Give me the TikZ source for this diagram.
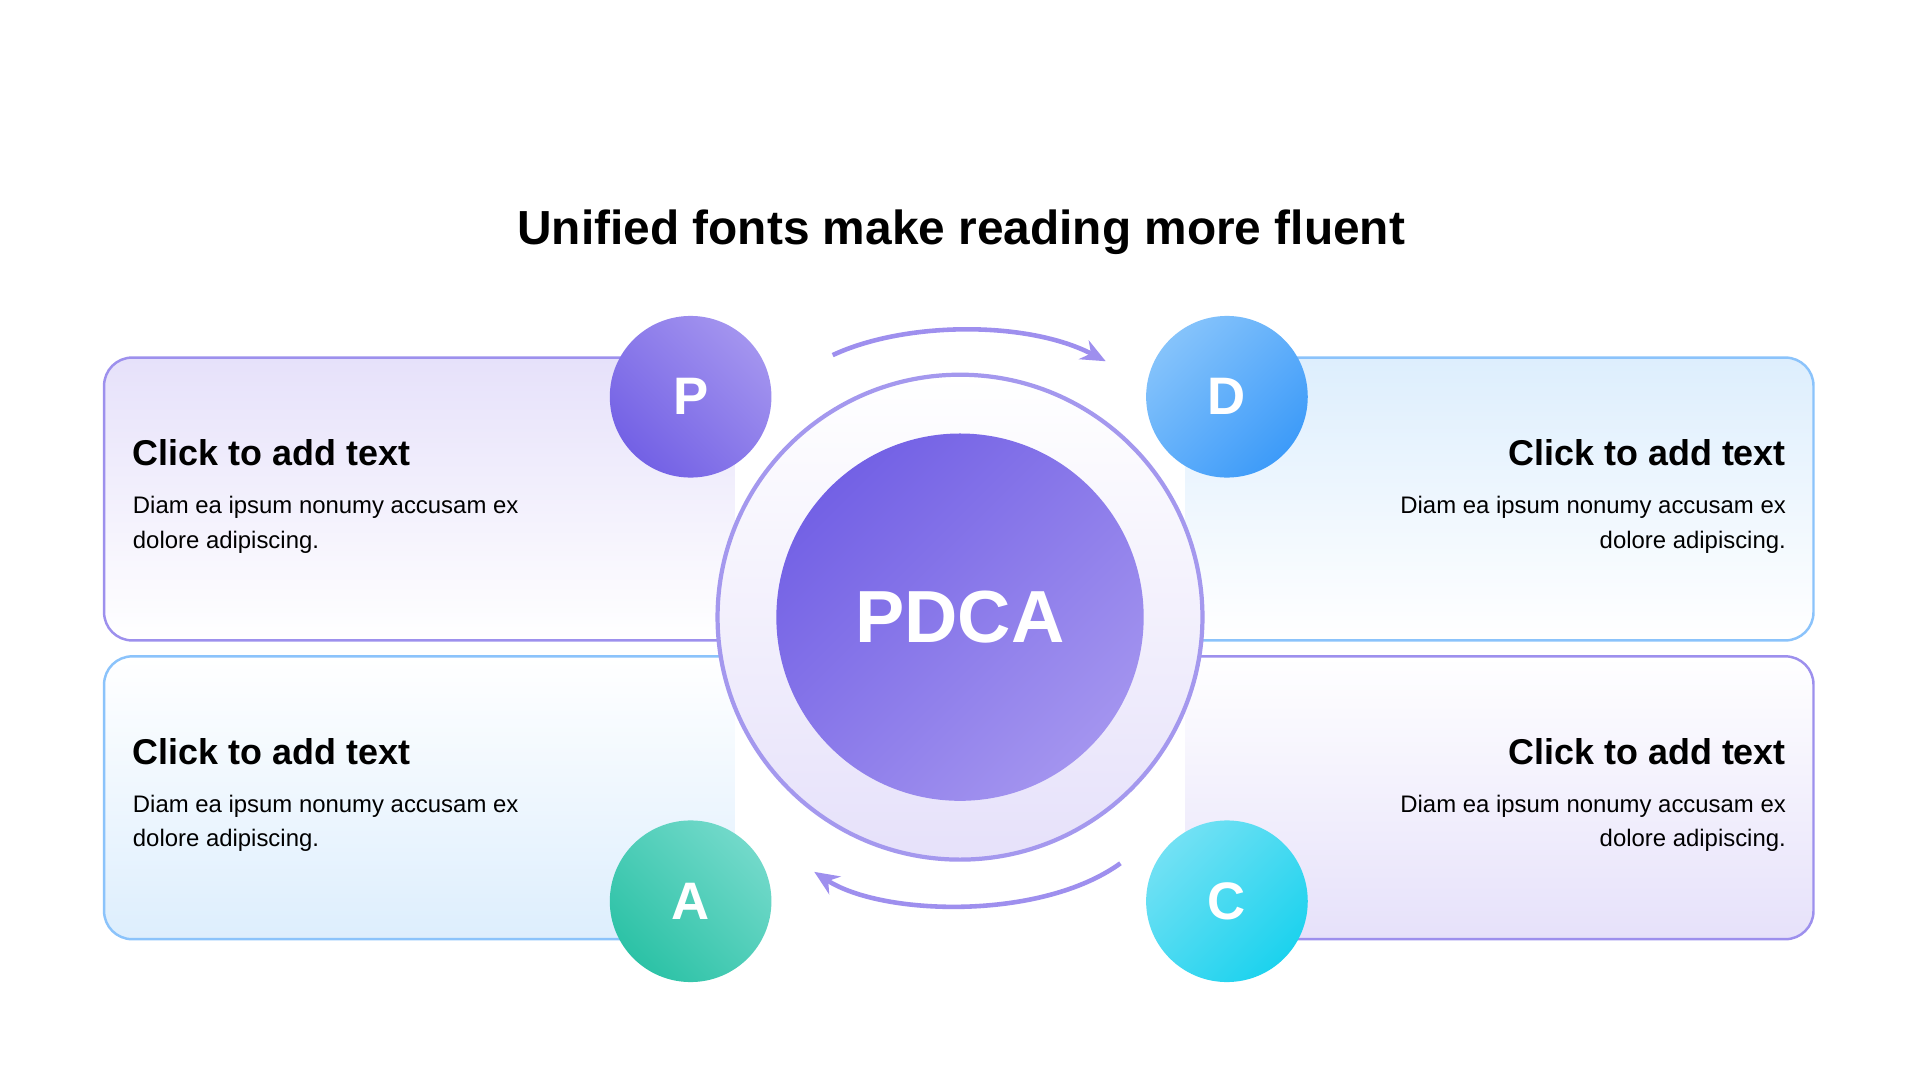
\documentclass[tikz,border=0pt]{standalone}
\usepackage{fontspec}
\setmainfont{Liberation Sans}
\usetikzlibrary{arrows.meta}
\definecolor{pviolet}{HTML}{7361E5}
\definecolor{plight}{HTML}{A394EF}
\definecolor{pblue}{HTML}{3D9BF9}
\definecolor{pbluel}{HTML}{85C3FB}
\definecolor{pteal}{HTML}{2CC2A6}
\definecolor{ptealL}{HTML}{72D9CA}
\definecolor{pcyan}{HTML}{1CD2EE}
\definecolor{pcyanL}{HTML}{72E1F4}
\definecolor{lav}{HTML}{E6E1FA}
\definecolor{skyl}{HTML}{DDEEFD}
\tikzset{
  card/.style={rounded corners=8, line width=0.7pt},
  badge/.style={circle, minimum size=132*0.012245cm, inner sep=0pt,
    text=white, font=\bfseries\fontsize{15}{15}\selectfont},
  head/.style={font=\bfseries\fontsize{10.2}{12}\selectfont, inner sep=0pt},
  body/.style={font=\fontsize{6.8}{9.7}\selectfont, inner sep=0pt, align=left},
  loop/.style={line width=1.3pt, color=plight!90!pviolet, -{Stealth[length=7pt,width=6pt]}}
}
\begin{document}
\begin{tikzpicture}[x=0.012245cm, y=-0.012245cm]
  \useasboundingbox (0,0) rectangle (1568,882);
  % title
  \node (title) at (785,190) {\bfseries\fontsize{13.6}{15}\selectfont Unified fonts make reading more fluent};
  % cards
  \draw [card, draw=pviolet!70, top color=lav, bottom color=white] (85,292) rectangle (640,523);
  \draw [card, draw=pblue!60, top color=white, bottom color=skyl] (85,536) rectangle (640,767);
  \draw [card, draw=pblue!60, top color=skyl, bottom color=white] (930,292) rectangle (1481,523);
  \draw [card, draw=pviolet!70, top color=white, bottom color=lav] (930,536) rectangle (1481,767);
  \fill [white] (600,280) rectangle (968,780);
  % center
  \shade [top color=white, bottom color=lav] (784,504) circle (198);
  \draw [line width=1.2pt, pviolet!65] (784,504) circle (198);
  \node (core) [circle, minimum size=300*0.012245cm, inner sep=0pt, text=white,
    shading=axis, left color=pviolet, right color=plight, shading angle=45,
    font=\bfseries\fontsize{21}{21}\selectfont] at (784,504) {PDCA};
  % badges
  \node (p) [badge, shading=axis, left color=pviolet, right color=plight, shading angle=135] at (564,324) {P};
  \node (d) [badge, shading=axis, left color=pblue, right color=pbluel, shading angle=225] at (1002,324) {D};
  \node (a) [badge, shading=axis, left color=pteal, right color=ptealL, shading angle=135] at (564,736) {A};
  \node (c) [badge, shading=axis, left color=pcyan, right color=pcyanL, shading angle=225] at (1002,736) {C};
  % loop arrows
  \coordinate (t1) at (680,290);
  \coordinate (t2) at (903,295);
  \coordinate (b1) at (915,705);
  \coordinate (b2) at (665,712);
  \draw [loop] (t1) .. controls (740,262) and (840,262) .. (t2);
  \draw [loop] (b1) .. controls (850,752) and (720,748) .. (b2);
  % texts
  \node (h1) [head, anchor=base west] at (108,380) {Click to add text};
  \node (t1x) [body, anchor=north west] at (108,405) {Diam ea ipsum nonumy accusam ex\\dolore adipiscing.};
  \node (h2) [head, anchor=base east] at (1459,380) {Click to add text};
  \node (t2x) [body, anchor=north east, align=right] at (1459,405) {Diam ea ipsum nonumy accusam ex\\dolore adipiscing.};
  \node (h3) [head, anchor=base west] at (108,624) {Click to add text};
  \node (t3x) [body, anchor=north west] at (108,649) {Diam ea ipsum nonumy accusam ex\\dolore adipiscing.};
  \node (h4) [head, anchor=base east] at (1459,624) {Click to add text};
  \node (t4x) [body, anchor=north east, align=right] at (1459,649) {Diam ea ipsum nonumy accusam ex\\dolore adipiscing.};
\end{tikzpicture}
\end{document}
